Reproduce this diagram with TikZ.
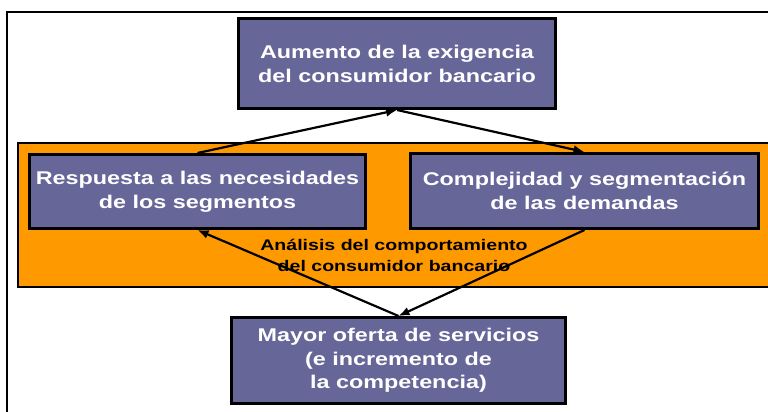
\documentclass[tikz,border=0pt]{standalone}
\usepackage{fontspec}
\setmainfont{Liberation Sans}[FakeStretch=1.27]
\usepackage{xcolor}
\usetikzlibrary{arrows.meta}
\definecolor{boxblue}{HTML}{666699}
\definecolor{bandorange}{HTML}{FF9900}

\begin{document}
\begin{tikzpicture}[x=1pt, y=-1pt, >={Latex[length=11pt,width=9pt]}]
    % Define styles
    \tikzstyle{cause} = [rectangle, draw=black, line width=3pt, fill=boxblue, text=white, align=center, inner sep=0pt, font=\fontsize{18.4}{24}\selectfont\bfseries]
    \tikzstyle{band} = [rectangle, draw=black, line width=1.5pt, fill=bandorange, inner sep=0pt]
    \tikzstyle{link} = [->, line width=2.2pt]

    \useasboundingbox (0,0) rectangle (768,412);

    % Frame
    \draw[line width=1.8pt] (7,412) -- (7,12) -- (775,12);

    % Nodes
    \node[band, minimum width=757pt, minimum height=144pt] (banda) at (396.5,215) {};
    \node[cause, minimum width=317pt, minimum height=90pt] (aumento) at (397,63.5) {Aumento de la exigencia\\del consumidor bancario};
    \node[cause, minimum width=336pt, minimum height=74pt] (respuesta) at (197.5,191.5) {Respuesta a las necesidades\\de los segmentos};
    \node[cause, minimum width=348pt, minimum height=75pt] (complejidad) at (584.5,191) {Complejidad y segmentación\\de las demandas};
    \node[cause, minimum width=334pt, minimum height=86pt, font=\fontsize{18.4}{23.5}\selectfont\bfseries] (oferta) at (398.5,360.5) {Mayor oferta de servicios\\(e incremento de\\la competencia)};
    \node[align=center, inner sep=0pt, font=\fontsize{15.4}{21}\selectfont\bfseries] (analisis) at (394,255) {Análisis del comportamiento\\del consumidor bancario};

    % Connections
    \draw[link] (respuesta.north) -- (aumento.south);
    \draw[link] (aumento.south) -- (complejidad.north);
    \draw[link] (oferta.north) -- (respuesta.south);
    \draw[link] (complejidad.south) -- (oferta.north);
\end{tikzpicture}
\end{document}
